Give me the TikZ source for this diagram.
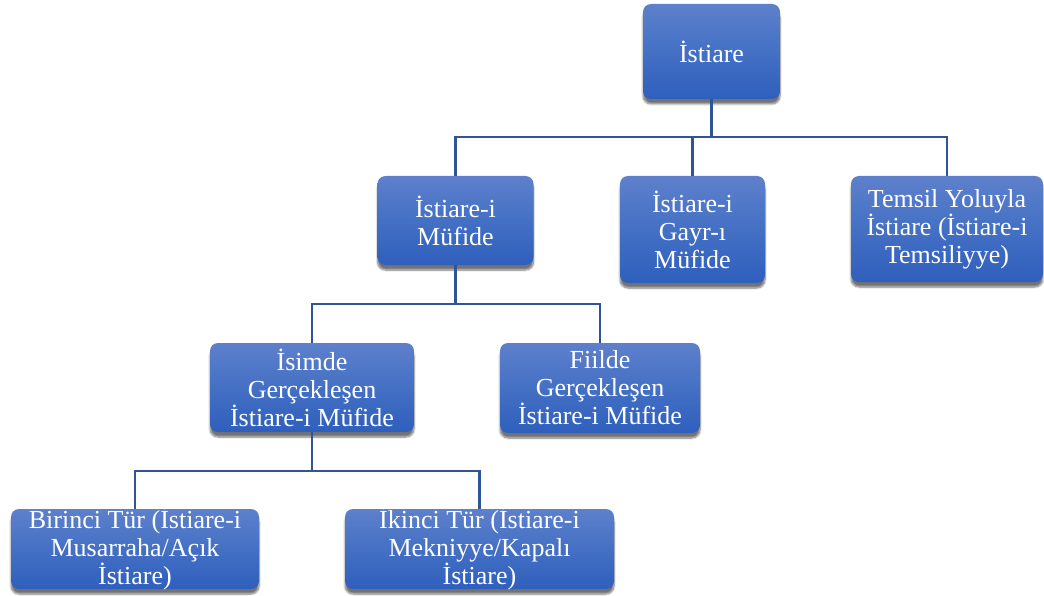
\documentclass[tikz,border=0pt]{standalone}
\usepackage{fontspec}
\setmainfont{Liberation Serif}
\usetikzlibrary{shadows.blur}

\definecolor{boxtop}{RGB}{94,128,204}
\definecolor{boxmid}{RGB}{68,112,196}
\definecolor{boxbot}{RGB}{47,95,189}
\definecolor{linkblue}{RGB}{47,85,151}

\tikzset{
  orgbox/.style={
    draw=none, rounded corners=8pt, inner sep=0pt,
    top color=boxtop, bottom color=boxbot, middle color=boxmid,
    blur shadow={shadow xshift=0pt, shadow yshift=-5pt,
                 shadow blur steps=7, shadow opacity=55}
  },
  orgtext/.style={
    text=white, align=center, inner sep=0pt,
    font=\fontsize{26}{28}\selectfont
  },
  link/.style={draw=linkblue, line width=2.6pt}
}

\begin{document}
\begin{tikzpicture}[x=1pt, y=-1pt]
  \useasboundingbox (0,0) rectangle (1044,596);

  % boxes: centre, width and height
  \node[orgbox, minimum width=137pt, minimum height=95pt] (root)    at (711.5,51.5) {};
  \node[orgbox, minimum width=156pt, minimum height=89pt] (mufide)  at (455.5,220.5) {};
  \node[orgbox, minimum width=145pt, minimum height=107pt] (gayr)   at (692.5,229.5) {};
  \node[orgbox, minimum width=192pt, minimum height=106pt] (temsil) at (947,229) {};
  \node[orgbox, minimum width=204pt, minimum height=89pt] (isimde)  at (312,387.5) {};
  \node[orgbox, minimum width=200pt, minimum height=90pt] (fiilde)  at (600,388) {};
  \node[orgbox, minimum width=248pt, minimum height=80pt] (birinci) at (135,549) {};
  \node[orgbox, minimum width=269pt, minimum height=80pt] (ikinci)  at (479.5,549) {};

  % labels
  \node[orgtext] (root-t)    at (root)    {İstiare};
  \node[orgtext] (mufide-t)  at (mufide)  {İstiare-i\\Müfide};
  \node[orgtext] (gayr-t)    at (gayr)    {İstiare-i\\Gayr-ı\\Müfide};
  \node[orgtext] (temsil-t)  at (temsil)  {Temsil Yoluyla\\İstiare (İstiare-i\\Temsiliyye)};
  \node[orgtext] (isimde-t)  at (isimde)  {İsimde\\Gerçekleşen\\İstiare-i Müfide};
  \node[orgtext] (fiilde-t)  at (fiilde)  {Fiilde\\Gerçekleşen\\İstiare-i Müfide};
  \node[orgtext] (birinci-t) at (birinci) {Birinci Tür (İstiare-i\\Musarraha/Açık\\İstiare)};
  \node[orgtext] (ikinci-t)  at (ikinci)  {İkinci Tür (İstiare-i\\Mekniyye/Kapalı\\İstiare)};

  % branch points
  \coordinate (bus1) at (711.5,137);
  \coordinate (bus2) at (455.5,304);
  \coordinate (bus3) at (312,471);

  % connectors
  \draw[link] (root.south) -- (bus1);
  \draw[link] (bus1) -| (mufide.north);
  \draw[link] (bus1) -| (gayr.north);
  \draw[link] (bus1) -| (temsil.north);

  \draw[link] (mufide.south) -- (bus2);
  \draw[link] (bus2) -| (isimde.north);
  \draw[link] (bus2) -| (fiilde.north);

  \draw[link] (isimde.south) -- (bus3);
  \draw[link] (bus3) -| (birinci.north);
  \draw[link] (bus3) -| (ikinci.north);
\end{tikzpicture}
\end{document}
